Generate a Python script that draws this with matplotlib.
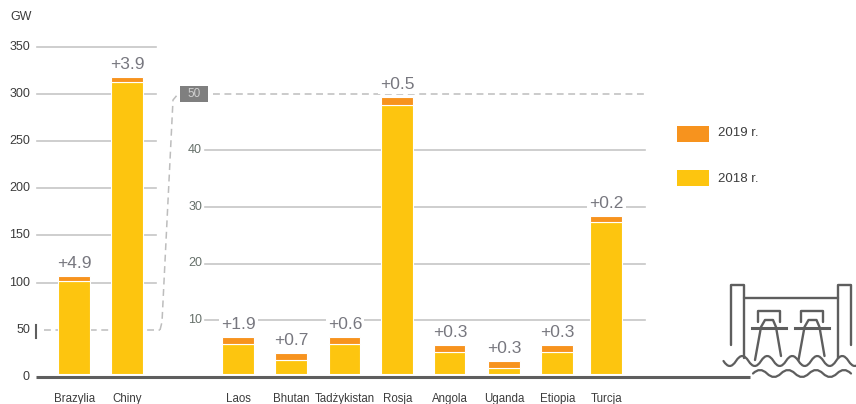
import matplotlib
matplotlib.use("Agg")
import matplotlib.pyplot as plt
from matplotlib.patches import Rectangle, PathPatch
from matplotlib.path import Path

plt.rcParams['font.family'] = ['Liberation Sans', 'DejaVu Sans']

# main panel (scale 0-350)
main_names = ['Brazylia', 'Chiny']
main_2018 = [101.6, 312.9]
main_2019 = [5.6, 5.6]
main_delta = ['+4.9', '+3.9']
main_ticks = [0, 50, 100, 150, 200, 250, 300, 350]

# zoomed panel (scale 0-50)
zoom_names = ['Laos', 'Bhutan', 'Tadżykistan', 'Rosja', 'Angola', 'Uganda', 'Etiopia', 'Turcja']
zoom_2018 = [5.7, 2.9, 5.7, 48.0, 4.35, 1.55, 4.35, 27.4]
zoom_2019 = [1.35, 1.35, 1.35, 1.4, 1.25, 1.25, 1.25, 1.0]
zoom_delta = ['+1.9', '+0.7', '+0.6', '+0.5', '+0.3', '+0.3', '+0.3', '+0.2']
zoom_ticks = [10, 20, 30, 40]

# layout, in pixels
W, H = 856, 404
Y0 = 376.7
MAIN_PX = 47.1 / 50
ZOOM_PX = 56.6 / 10
main_x = [74, 127]
zoom_x = [238, 291, 344.7, 397, 449.7, 503.8, 556.8, 606]
BAR_W = 31.5

YELLOW = '#fdc50f'
ORANGE = '#f7931e'
GRID = '#c6c6c6'
DASH = '#bdbdbd'
DARK = '#5e5e5e'
TEXT = '#3c3c3c'
DELTA = '#77777f'

fig = plt.figure(figsize=(W / 100, H / 100), dpi=100)


def make_ax(px_per_unit):
    ax = fig.add_axes([0, 0, 1, 1], facecolor='none')
    ax.set_xlim(0, W)
    ax.set_ylim(-(H - Y0) / px_per_unit, Y0 / px_per_unit)
    ax.axis('off')
    return ax


ax_main = make_ax(MAIN_PX)
ax_zoom = make_ax(ZOOM_PX)
# pixel axes for furniture that isn't on either scale
ax_px = fig.add_axes([0, 0, 1, 1], facecolor='none', zorder=5)
ax_px.set_xlim(0, W)
ax_px.set_ylim(H, 0)
ax_px.axis('off')


def draw_bars(ax, xs, base, top, deltas, names, px_per_unit):
    for x, b, t, d, name in zip(xs, base, top, deltas, names):
        ax.bar(x, b, BAR_W, color=YELLOW, edgecolor='white', linewidth=0.8, zorder=3)
        ax.bar(x, t, BAR_W, bottom=b, color=ORANGE, edgecolor='white', linewidth=0.8, zorder=3)
        ax.text(x + 0.5, b + t + 5 / px_per_unit, d, ha='center', va='bottom', fontsize=12.5,
                color=DELTA, zorder=4, bbox=dict(facecolor='white', edgecolor='none', pad=1.5))
        ax.text(x + 0.5, -(402 - Y0) / px_per_unit, name, ha='center', va='baseline', fontsize=8.3,
                color=TEXT)


# gridlines + tick labels, left
for t in main_ticks[2:]:
    ax_main.plot([37, 156], [t, t], color=GRID, lw=1.2, zorder=1)
for t in main_ticks:
    ax_main.text(30, t, str(t), ha='right', va='center', fontsize=9, color=TEXT)
ax_px.text(10, 17, 'GW', ha='left', va='center', fontsize=9, color=TEXT)

# gridlines + tick labels, right
for t in zoom_ticks:
    ax_zoom.plot([205, 645], [t, t], color=GRID, lw=1.2, zorder=1)
    ax_zoom.text(202, t, str(t), ha='right', va='center', fontsize=9, color='#66706a')

draw_bars(ax_main, main_x, main_2018, main_2019, main_delta, main_names, MAIN_PX)
draw_bars(ax_zoom, zoom_x, zoom_2018, zoom_2019, zoom_delta, zoom_names, ZOOM_PX)

# connector between the two scales
dash = dict(color=DASH, lw=1.1, dashes=(4.5, 3), zorder=1)
ax_main.plot([44, 160], [50, 50], **dash)
ax_px.plot([160, 162, 173, 178], [330, 322, 100, 94], **dash)
ax_zoom.plot([213, 645], [50, 50], **dash)
ax_main.plot([36, 36], [41, 55], color=DARK, lw=1.5)
ax_px.add_patch(Rectangle((180, 86), 28, 16, facecolor='#7f7f7f', edgecolor='none'))
ax_px.text(194, 94, '50', ha='center', va='center', fontsize=8.5, color='#d0d0d0')

# baseline, with a white gap under the bars
ax_px.plot([36, 750], [374.5, 374.5], color='white', lw=1.5, zorder=3)
ax_px.plot([36, 750], [376.7, 376.7], color=DARK, lw=2.2, zorder=4, solid_capstyle='butt')

# legend
ax_px.add_patch(Rectangle((677, 126), 32, 16, facecolor=ORANGE, edgecolor='none'))
ax_px.add_patch(Rectangle((677, 170), 32, 15.5, facecolor=YELLOW, edgecolor='none'))
ax_px.text(718, 133, '2019 r.', ha='left', va='center', fontsize=9.5, color=TEXT)
ax_px.text(718, 179, '2018 r.', ha='left', va='center', fontsize=9.5, color=TEXT)


# dam icon
def wave(x0, x1, y_mid, amp, period, first_up):
    verts = [(x0, y_mid)]
    codes = [Path.MOVETO]
    x, sign = x0, -1 if first_up else 1
    while x < x1:
        verts += [(x + period / 4, y_mid + sign * amp * 2), (x + period / 2, y_mid)]
        codes += [Path.CURVE3, Path.CURVE3]
        x += period / 2
        sign = -sign
    return Path(verts, codes)


icon = dict(color=DARK, lw=1.7, solid_capstyle='round', solid_joinstyle='round')
ax_px.plot([731, 731, 744, 744], [345, 285, 285, 358], **icon)
ax_px.plot([838.5, 838.5, 851.5, 851.5], [358, 285, 285, 345], **icon)
ax_px.plot([744, 838.5], [298, 298], **icon)
for dx in [0, 43.5]:
    ax_px.plot([758 + dx, 758 + dx, 780 + dx, 780 + dx], [322, 311, 311, 322], **icon)
    ax_px.plot([752 + dx, 786 + dx], [327.5, 327.5], color=DARK, lw=2.2)
    ax_px.plot([755 + dx, 761 + dx, 765 + dx, 773 + dx, 776 + dx, 781 + dx],
               [360, 327, 320, 320, 327, 356], **icon)
for path in [wave(723.5, 856, 361, 5, 25, False), wave(753, 845, 373.5, 3.5, 28, True)]:
    ax_px.add_patch(PathPatch(path, facecolor='none', edgecolor=DARK, lw=1.6, capstyle='round'))

fig.savefig('out.png', dpi=100, facecolor='white')
